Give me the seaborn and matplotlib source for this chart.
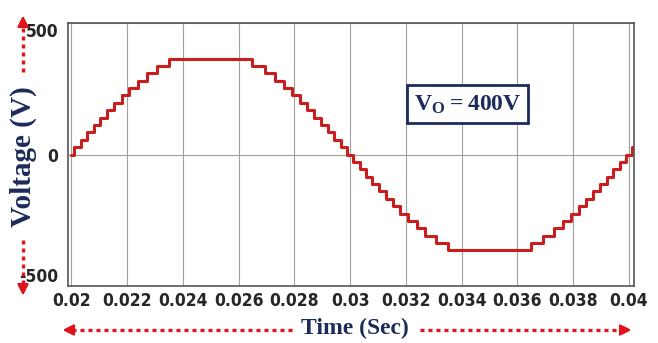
import pandas as pd
import seaborn as sns
import matplotlib.pyplot as plt
from matplotlib.lines import Line2D

# staircase output, switching instants (s) and levels (V)
switch_times = [0.0200, 0.02011, 0.02034, 0.02057, 0.02080, 0.02104, 0.02129, 0.02154,
                0.02180, 0.02208, 0.02238, 0.02270, 0.02307, 0.02351,
                0.02649, 0.02693, 0.02730, 0.02762, 0.02792, 0.02820, 0.02846,
                0.02871, 0.02896, 0.02920, 0.02943, 0.02966, 0.02989,
                0.03011, 0.03034, 0.03057, 0.03080, 0.03104, 0.03129, 0.03154,
                0.03180, 0.03208, 0.03238, 0.03270, 0.03307, 0.03351,
                0.03649, 0.03693, 0.03730, 0.03762, 0.03792, 0.03820, 0.03846,
                0.03871, 0.03896, 0.03920, 0.03943, 0.03966, 0.03989,
                0.04011, 0.0402]
levels = [0, 28, 56, 84, 112, 140, 168, 197, 225, 253, 281, 309, 337, 365,
          337, 309, 281, 253, 225, 197, 168, 140, 112, 84, 56, 28, 0,
          -28, -56, -84, -112, -140, -168, -197, -225, -253, -281, -309, -337, -365,
          -337, -309, -281, -253, -225, -197, -168, -140, -112, -84, -56, -28, 0,
          28, 28]

x_ticks = [0.02, 0.022, 0.024, 0.026, 0.028, 0.03, 0.032, 0.034, 0.036, 0.038, 0.04]
x_tick_labels = ["0.02", "0.022", "0.024", "0.026", "0.028", "0.03",
                 "0.032", "0.034", "0.036", "0.038", "0.04"]
y_ticks = [-500, 0, 500]
y_tick_labels = ["-500", "0", "500"]

W, H = 658, 343
navy = "#1c2b5a"
red = "#e0141c"

sns.set_style("white")
plt.rcParams['font.family'] = ['DejaVu Sans']
plt.rcParams['mathtext.fontset'] = 'custom'
plt.rcParams['mathtext.rm'] = 'Liberation Serif:bold'
plt.rcParams['mathtext.bf'] = 'Liberation Serif:bold'

fig = plt.figure(figsize=(W / 100, H / 100), dpi=100)
ax = fig.add_axes([68 / W, 1 - 286 / H, (634 - 68) / W, (286 - 23) / H])

wave = pd.DataFrame({"Time": switch_times, "Voltage": levels})
sns.lineplot(data=wave, x="Time", y="Voltage", ax=ax, drawstyle="steps-post",
             color="#c81e1e", linewidth=2.2, estimator=None, sort=False)

ax.set_xlim(0.01988, 0.04018)
ax.set_ylim(-500, 500)
ax.set_xticks(x_ticks)
ax.set_xticklabels(x_tick_labels, fontsize=12.5, fontweight="bold", fontstretch="condensed")
ax.set_yticks(y_ticks)
ax.set_yticklabels(y_tick_labels, fontsize=12.5, fontweight="bold", fontstretch="condensed")
ax.get_yticklabels()[0].set_va("bottom")
ax.get_yticklabels()[2].set_va("top")
ax.tick_params(length=0)
ax.tick_params(axis="x", pad=4)
ax.tick_params(axis="y", pad=7)
ax.grid(True, color="#a0a0a0", linewidth=0.8)
ax.set_xlabel("")
ax.set_ylabel("")
for s in ax.spines.values():
    s.set_color("#555555")
    s.set_linewidth(1.2)

ax.text(0.706, 0.692, r"$\mathbf{V_O = 400V}$", transform=ax.transAxes,
        ha="center", va="center", fontsize=17, color=navy,
        bbox=dict(boxstyle="square,pad=0.3", fc="white", ec=navy, lw=2))


# red dotted arrows around the axis labels (figure pixel coords)
def dotted(x0, y0, x1, y1):
    fig.add_artist(Line2D([x0 / W, x1 / W], [1 - y0 / H, 1 - y1 / H],
                          transform=fig.transFigure, color=red, lw=2.4,
                          linestyle=(0, (1.2, 1.2))))


def head(xt, yt, xs, ys):
    fig.add_artist(plt.annotate("", xy=(xt / W, 1 - yt / H), xytext=(xs / W, 1 - ys / H),
                                xycoords="figure fraction", textcoords="figure fraction",
                                arrowprops=dict(arrowstyle="-|>", color=red, lw=1.5,
                                                mutation_scale=16)))


dotted(23, 72, 23, 24)
head(23, 13, 23, 26)
dotted(23, 240, 23, 286)
head(23, 298, 23, 285)

dotted(72, 330, 292, 330)
head(60, 330, 74, 330)
dotted(420, 330, 620, 330)
head(634, 330, 620, 330)

fig.text(355 / W, 1 - 328 / H, "Time (Sec)", family="Liberation Serif",
         fontweight="bold", fontsize=17, color=navy, ha="center", va="center")
fig.text(23 / W, 1 - 157 / H, "Voltage (V)", family="Liberation Serif",
         fontweight="bold", fontsize=21, color=navy, ha="center", va="center",
         rotation=90)

fig.savefig("out.png", dpi=100)
